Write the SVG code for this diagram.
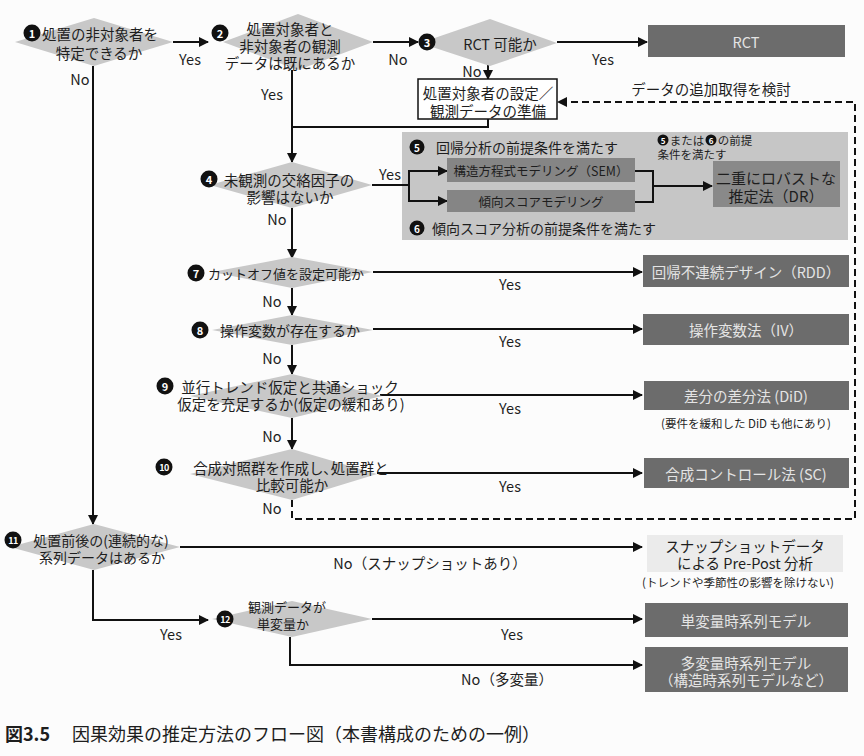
<svg xmlns="http://www.w3.org/2000/svg" width="864" height="756" viewBox="0 0 864 756">
<defs>
<style>
text{font-family:"Noto Sans CJK JP","Noto Sans",sans-serif;fill:#1e1e1e;dominant-baseline:central;text-anchor:middle;font-size:14.5px}
.dia{fill:#c8c8c8}
.dark{fill:#6c6c6c}
.mid{fill:#898989}
.lt{fill:#ebebeb}
.wt{fill:#e4e4e4}
.sm{font-size:11.5px}
.num{fill:#fff;font-weight:bold;font-size:11px}
.numS{fill:#fff;font-weight:bold;font-size:9px;letter-spacing:-0.5px}
.ln{fill:none;stroke:#111;stroke-width:2}
.dash{fill:none;stroke:#111;stroke-width:2;stroke-dasharray:7 4}
</style>
<marker id="ah" viewBox="0 0 10 10" refX="9" refY="5" markerWidth="5" markerHeight="5" orient="auto" markerUnits="strokeWidth">
<path d="M0,0 L10,5 L0,10 z" fill="#111"/>
</marker>
</defs>
<rect width="864" height="756" fill="#fcfcfc"/>

<g id="panel">
<rect x="402" y="132" width="446" height="108" fill="#c6c6c6"/>
<circle cx="417" cy="147" r="7.5" fill="#111"/><text class="num" x="417" y="147" style="font-size:10px">5</text>
<text x="527" y="147" style="font-size:14px">回帰分析の前提条件を満たす</text>
<circle cx="417" cy="228" r="7.5" fill="#111"/><text class="num" x="417" y="228" style="font-size:10px">6</text>
<text x="544" y="228" style="font-size:14px">傾向スコア分析の前提条件を満たす</text>
<circle cx="663" cy="140" r="5.5" fill="#111"/><text class="num" x="663" y="140" style="font-size:8px">5</text>
<text class="sm" x="687" y="140">または</text>
<circle cx="711" cy="140" r="5.5" fill="#111"/><text class="num" x="711" y="140" style="font-size:8px">6</text>
<text class="sm" x="735" y="140">の前提</text>
<text class="sm" x="692" y="154">条件を満たす</text>
</g>

<g id="connectors">
<path class="ln" d="M173,42 H208" marker-end="url(#ah)"/>
<path class="ln" d="M373,42 H418" marker-end="url(#ah)"/>
<path class="ln" d="M557,42 H647" marker-end="url(#ah)"/>
<path class="ln" d="M488,62 V79" marker-end="url(#ah)"/>
<path class="ln" d="M292,70 V162" marker-end="url(#ah)"/>
<path class="ln" d="M488,119 V127 H292"/>
<path class="ln" d="M372,185 H409"/>
<path class="ln" d="M409,171 V201"/>
<path class="ln" d="M408,171 H447" marker-end="url(#ah)"/>
<path class="ln" d="M408,201 H447" marker-end="url(#ah)"/>
<path class="ln" d="M635,171 H653 V202 H635"/>
<path class="ln" d="M653,186 H712" marker-end="url(#ah)"/>
<path class="ln" d="M292,208 V258" marker-end="url(#ah)"/>
<path class="ln" d="M373,272 H642" marker-end="url(#ah)"/>
<path class="ln" d="M292,288 V315" marker-end="url(#ah)"/>
<path class="ln" d="M373,329 H642" marker-end="url(#ah)"/>
<path class="ln" d="M292,345 V374" marker-end="url(#ah)"/>
<path class="ln" d="M380,395 H642" marker-end="url(#ah)"/>
<path class="ln" d="M292,418 V449" marker-end="url(#ah)"/>
<path class="ln" d="M377,473 H642" marker-end="url(#ah)"/>
<path class="dash" d="M292,500 V519 H855 V102 H558" marker-end="url(#ah)"/>
<path class="ln" d="M93,66 V524" marker-end="url(#ah)"/>
<path class="ln" d="M180,547 H642" marker-end="url(#ah)"/>
<path class="ln" d="M93,570 V620 H208" marker-end="url(#ah)"/>
<path class="ln" d="M372,619 H642" marker-end="url(#ah)"/>
<path class="ln" d="M290,637 V665 H642" marker-end="url(#ah)"/>
</g>

<g id="labels">
<text x="190" y="58">Yes</text>
<text x="80" y="78">No</text>
<text x="272" y="93">Yes</text>
<text x="398" y="58">No</text>
<text x="603" y="58">Yes</text>
<text x="472" y="70">No</text>
<text x="711" y="88">データの追加取得を検討</text>
<text x="390" y="173">Yes</text>
<text x="277" y="218">No</text>
<text x="510" y="283">Yes</text>
<text x="272" y="300">No</text>
<text x="510" y="340">Yes</text>
<text x="272" y="357">No</text>
<text x="510" y="407">Yes</text>
<text x="272" y="435">No</text>
<text x="510" y="485">Yes</text>
<text x="272" y="507">No</text>
<text x="430" y="562">No（スナップショットあり）</text>
<text x="171" y="633">Yes</text>
<text x="512" y="633">Yes</text>
<text x="507" y="678">No（多変量）</text>
</g>

<g id="n1">
<polygon class="dia" points="15,42 94,18 173,42 94,66"/>
<circle cx="32" cy="33" r="8.5" fill="#111"/><text class="num" x="32" y="33">1</text>
<text><tspan x="100" y="33">処置の非対象者を</tspan><tspan x="99" y="52">特定できるか</tspan></text>
</g>

<g id="n2">
<polygon class="dia" points="223,42 298,14 373,42 298,70"/>
<circle cx="220" cy="33" r="8.5" fill="#111"/><text class="num" x="220" y="33">2</text>
<text><tspan x="290" y="28">処置対象者と</tspan><tspan x="290" y="45">非対象者の観測</tspan><tspan x="290" y="62">データは既にあるか</tspan></text>
</g>

<g id="n3">
<polygon class="dia" points="420,43 490,19 557,43 490,66"/>
<circle cx="427" cy="42" r="8.5" fill="#111"/><text class="num" x="427" y="42">3</text>
<text x="500" y="43">RCT 可能か</text>
</g>

<g id="rct">
<rect class="dark" x="648" y="25" width="197" height="32"/>
<text class="wt" x="746" y="41">RCT</text>
</g>

<g id="prep">
<rect x="418" y="79" width="139" height="40" fill="#fff" stroke="#111" stroke-width="1.5"/>
<text><tspan x="488" y="92">処置対象者の設定／</tspan><tspan x="488" y="110">観測データの準備</tspan></text>
</g>

<g id="n4">
<polygon class="dia" points="210,185 292,162 372,185 292,208"/>
<circle cx="209" cy="179" r="8.5" fill="#111"/><text class="num" x="209" y="179">4</text>
<text><tspan x="289" y="179">未観測の交絡因子の</tspan><tspan x="290" y="196">影響はないか</tspan></text>
</g>

<g id="sem">
<rect x="447" y="158" width="188" height="24" fill="#858585"/>
<text x="541" y="170" style="font-size:12.5px">構造方程式モデリング（SEM）</text>
</g>

<g id="ps">
<rect x="447" y="190" width="188" height="22" fill="#858585"/>
<text x="541" y="201" style="font-size:12.5px">傾向スコアモデリング</text>
</g>

<g id="dr">
<rect class="mid" x="713" y="161" width="127" height="46"/>
<text style="font-size:15px"><tspan x="776" y="177">二重にロバストな</tspan><tspan x="776" y="195">推定法（DR）</tspan></text>
</g>

<g id="n7">
<polygon class="dia" points="212,272 292,257 373,272 292,288"/>
<circle cx="196" cy="273" r="8.5" fill="#111"/><text class="num" x="196" y="273">7</text>
<text x="286" y="273" style="font-size:13px">カットオフ値を設定可能か</text>
</g>

<g id="rdd">
<rect class="dark" x="643" y="255" width="206" height="32"/>
<text class="wt" x="746" y="271">回帰不連続デザイン（RDD）</text>
</g>

<g id="n8">
<polygon class="dia" points="212,330 292,315 373,330 292,345"/>
<circle cx="200" cy="330" r="8.5" fill="#111"/><text class="num" x="200" y="330">8</text>
<text x="290" y="330" style="font-size:14px">操作変数が存在するか</text>
</g>

<g id="iv">
<rect class="dark" x="643" y="314" width="206" height="31"/>
<text class="wt" x="746" y="329">操作変数法（IV）</text>
</g>

<g id="n9">
<polygon class="dia" points="190,396 292,374 382,396 292,418"/>
<circle cx="165" cy="386" r="8.5" fill="#111"/><text class="num" x="165" y="386">9</text>
<text><tspan x="290" y="386">並行トレンド仮定と共通ショック</tspan><tspan x="291" y="403">仮定を充足するか(仮定の緩和あり)</tspan></text>
</g>

<g id="did">
<rect class="dark" x="644" y="381" width="205" height="29"/>
<text class="wt" x="746" y="395">差分の差分法 (DiD)</text>
<text class="sm" x="746" y="423">(要件を緩和した DiD も他にあり)</text>
</g>

<g id="n10">
<polygon class="dia" points="190,474 292,449 377,474 292,500"/>
<circle cx="164" cy="467" r="8.5" fill="#111"/><text class="numS" x="164" y="467">10</text>
<text><tspan x="291" y="467">合成対照群を作成し､処置群と</tspan><tspan x="292" y="484">比較可能か</tspan></text>
</g>

<g id="sc">
<rect class="dark" x="644" y="458" width="205" height="30"/>
<text class="wt" x="746" y="473">合成コントロール法 (SC)</text>
</g>

<g id="n11">
<polygon class="dia" points="10,547 94,524 180,547 94,570"/>
<circle cx="13" cy="540" r="8.5" fill="#111"/><text class="numS" x="13" y="540">11</text>
<text style="font-size:14px"><tspan x="101" y="540">処置前後の(連続的な)</tspan><tspan x="102" y="557">系列データはあるか</tspan></text>
</g>

<g id="prepost">
<rect class="lt" x="647" y="535" width="196" height="37"/>
<text><tspan x="745" y="545">スナップショットデータ</tspan><tspan x="745" y="562">による Pre-Post 分析</tspan></text>
<text class="sm" x="738" y="582">(トレンドや季節性の影響を除けない)</text>
</g>

<g id="n12">
<polygon class="dia" points="212,619 292,601 372,619 292,637"/>
<circle cx="225" cy="619" r="8.5" fill="#111"/><text class="numS" x="225" y="619">12</text>
<text style="font-size:13px"><tspan x="287" y="606">観測データが</tspan><tspan x="283" y="623">単変量か</tspan></text>
</g>

<g id="uni">
<rect class="dark" x="645" y="603" width="203" height="34"/>
<text class="wt" x="746" y="620">単変量時系列モデル</text>
</g>

<g id="multi">
<rect class="dark" x="645" y="647" width="203" height="45"/>
<text class="wt"><tspan x="746" y="662">多変量時系列モデル</tspan><tspan x="746" y="679">（構造時系列モデルなど）</tspan></text>
</g>

<g id="caption">
<text x="5" y="733" style="text-anchor:start;font-size:18px;font-weight:bold">図3.5</text>
<text x="72" y="733" style="text-anchor:start;font-size:18px">因果効果の推定方法のフロー図（本書構成のための一例）</text>
</g>
</svg>
